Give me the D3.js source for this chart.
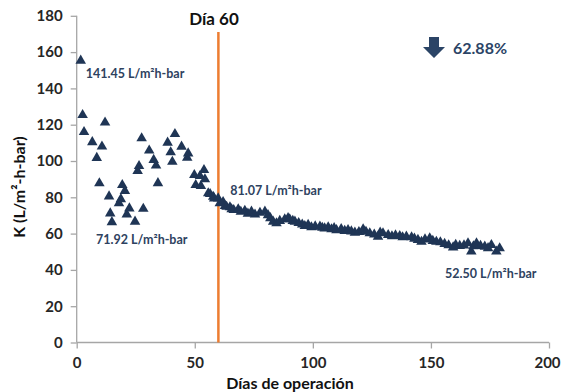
<!DOCTYPE html>
<html>
<head>
<meta charset="utf-8">
<script src="https://cdn.jsdelivr.net/npm/d3@7"></script>
<style>
  html, body { margin: 0; padding: 0; background: #fff; }
  svg { display: block; font-family: Lato, "Open Sans", sans-serif; font-weight: bold; }
</style>
</head>
<body>
<svg id="chart" width="561" height="392"></svg>
<script>
// Permeability K over days of operation: [day, K]
const earlyPhase = [
  [1.7,155.3],[2.5,125.3],[3.1,116.0],[6.6,110.4],[8.5,101.7],[9.6,87.7],[10.7,108.0],[12.0,121.2],
  [13.7,80.5],[14.2,71.1],[14.9,66.3],[17.9,76.7],[18.7,79.0],[19.3,86.8],[20.4,83.5],[21.2,70.6],
  [22.3,73.9],[24.7,66.6],[25.8,94.5],[26.4,97.2],[27.5,112.5],[28.2,73.7],[30.7,105.8],[32.6,100.6],
  [33.6,97.5],[34.4,87.8],[38.5,110.1],[39.8,104.8],[40.5,99.6],[41.6,114.9],[44.4,107.9],[46.8,101.8],
  [47.2,104.2],[49.8,92.3],[50.4,86.8],[52.2,91.7],[52.6,86.2],[53.9,95.0],[54.3,89.9],[55.7,82.2],
  [56.5,81.8],[57.8,80.3],[58.2,79.4],[59.9,79.4]
];
const latePhase = [
  [60.6,76.7],[62.0,77.4],[62.8,75.2],[63.5,74.8],[64.9,74.5],[65.6,73.4],[66.5,73.0],[68.4,73.4],
  [69.5,72.0],[71.2,72.6],[72.5,71.0],[74.0,72.1],[75.5,70.5],[77.6,71.5],[79.7,72.1],[81.0,70.2],
  [82.0,68.5],[83.2,66.6],[84.6,65.7],[86.0,67.0],[88.1,67.9],[89.5,68.5],[90.2,67.9],[91.5,67.0],
  [92.4,66.6],[94.0,65.8],[95.5,65.0],[96.6,64.2],[98.0,64.8],[99.4,63.5],[101.0,64.0],[103.0,63.8],
  [104.0,63.2],[105.0,62.9],[106.5,63.5],[107.9,62.4],[109.0,63.0],[110.0,61.9],[112.0,62.5],[113.5,61.5],
  [114.9,62.0],[116.3,61.2],[117.8,60.5],[119.5,60.9],[121.3,62.4],[122.5,61.0],[124.1,60.2],[126.0,59.5],
  [127.6,58.3],[128.5,60.5],[129.7,60.2],[131.9,59.2],[133.5,58.5],[135.0,59.0],[136.8,58.7],[138.0,58.0],
  [139.6,58.3],[141.8,58.0],[143.0,57.2],[144.5,56.5],[146.0,55.5],[147.5,56.8],[149.5,57.4],[150.8,56.0],
  [152.3,55.5],[154.0,55.2],[155.8,54.3],[157.5,53.6],[159.4,52.4],[160.5,53.8],[162.2,53.2],[164.0,53.5],
  [165.7,54.7],[167.1,50.1],[168.0,53.0],[169.3,54.7],[171.0,53.2],[172.8,52.8],[174.2,52.0],[175.6,53.7],
  [177.7,50.1],[179.1,51.9]
];
const xTicks = [0, 50, 100, 150, 200];
const yTicks = [0, 20, 40, 60, 80, 100, 120, 140, 160, 180];
const markerDay = 60;
const annotations = [
  { text: "141.45 L/m²h-bar", day: 3.8, k: 146 },
  { text: "71.92 L/m²h-bar",  day: 8.2, k: 54.5 },
  { text: "81.07 L/m²h-bar",  day: 65.0, k: 81.0 },
  { text: "52.50 L/m²h-bar",  day: 156.0, k: 35.5 }
];
const reduction = "62.88%";

const svg = d3.select("#chart");
const x = d3.scaleLinear().domain([0, 200]).range([76.7, 549]);
const y = d3.scaleLinear().domain([0, 180]).range([342.5, 15.8]);

const axisColor = "#a6a6a6";
const tickText = "#262626";
const navy = "#1f3555";
const labelBlue = "#2e4260";

// y axis
const yAxis = svg.append("g")
  .attr("transform", `translate(${x(0)},0)`)
  .call(d3.axisLeft(y).tickValues(yTicks).tickSize(6).tickPadding(8));
// x axis
const xAxis = svg.append("g")
  .attr("transform", `translate(0,${y(0)})`)
  .call(d3.axisBottom(x).tickValues(xTicks).tickSize(6).tickPadding(9));
[xAxis, yAxis].forEach(g => {
  g.select(".domain").attr("stroke", axisColor).attr("stroke-width", 1.3);
  g.selectAll(".tick line").attr("stroke", axisColor).attr("stroke-width", 1.3);
  g.selectAll(".tick text")
    .attr("fill", tickText)
    .attr("font-family", "Lato, sans-serif")
    .attr("font-weight", "bold")
    .attr("font-size", 15);
});
// keep the last x label inside the right edge
xAxis.selectAll(".tick text").filter(d => d === 200).attr("dx", -2);
xAxis.select(".domain").attr("d", `M${x(0)},0H${x(200)}`);
yAxis.select(".domain").attr("d", `M0,${y(180)}V${y(0)}`);

// axis titles
svg.append("text")
  .attr("x", 290).attr("y", 389)
  .attr("text-anchor", "middle")
  .attr("font-size", 16)
  .attr("fill", "#111")
  .text("Días de operación");
svg.append("text")
  .attr("transform", "translate(25,187) rotate(-90)")
  .attr("text-anchor", "middle")
  .attr("font-size", 16)
  .attr("fill", "#111")
  .text("K (L/m²-h-bar)");

// Day 60 marker line
svg.append("line")
  .attr("x1", x(markerDay)).attr("x2", x(markerDay))
  .attr("y1", 32).attr("y2", y(0))
  .attr("stroke", "#ed7d31").attr("stroke-width", 2.5);
svg.append("text")
  .attr("x", 214).attr("y", 25)
  .attr("text-anchor", "middle")
  .attr("font-size", 17)
  .attr("fill", "#111")
  .text("Día 60");

// data points
const tri = d3.symbol().type(d3.symbolTriangle).size(48);
svg.append("g").selectAll("path")
  .data(earlyPhase.concat(latePhase))
  .join("path")
  .attr("d", tri)
  .attr("transform", d => `translate(${x(d[0])},${y(d[1])})`)
  .attr("fill", navy);

// value annotations
svg.append("g").selectAll("text")
  .data(annotations)
  .join("text")
  .attr("x", d => x(d.day))
  .attr("y", d => y(d.k))
  .attr("font-size", 12.5)
  .attr("fill", labelBlue)
  .text(d => d.text);

// reduction indicator: down arrow + percentage
const ax = 434, ay = 37;
svg.append("path")
  .attr("d", `M${ax-5},${ay} H${ax+5} V${ay+10} H${ax+11} L${ax},${ay+21} L${ax-11},${ay+10} H${ax-5} Z`)
  .attr("fill", "#2b4466");
svg.append("text")
  .attr("x", 453).attr("y", 54)
  .attr("font-size", 16)
  .attr("fill", "#2b4466")
  .text(reduction);
</script>
</body>
</html>
